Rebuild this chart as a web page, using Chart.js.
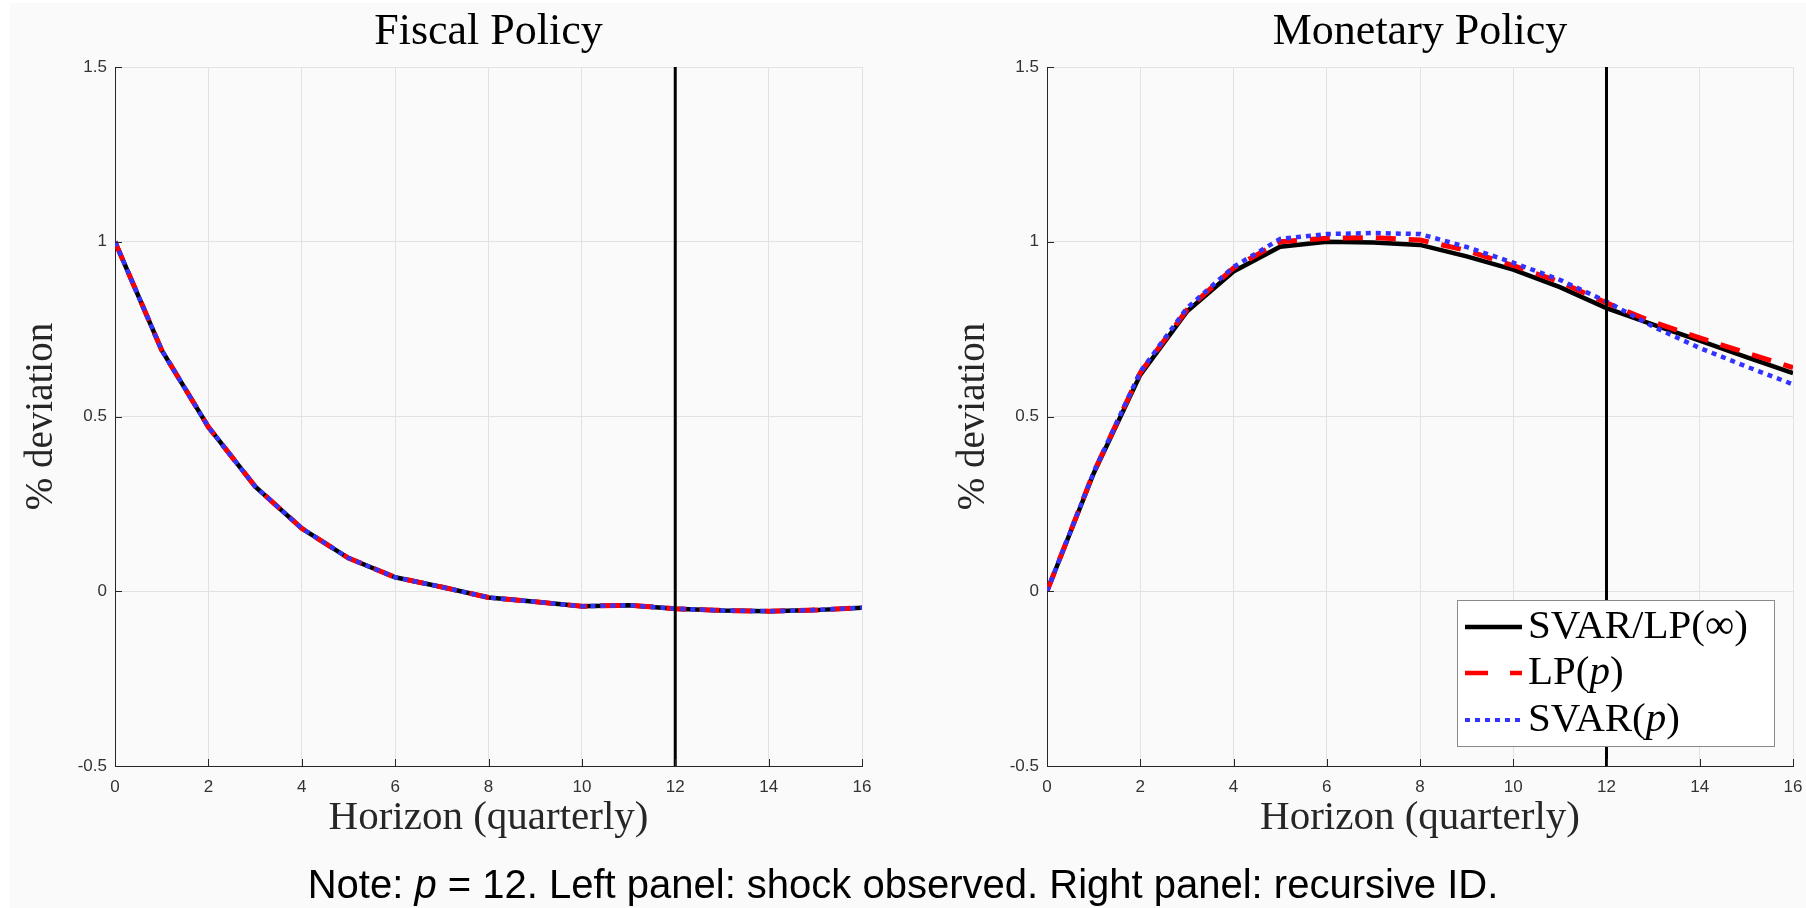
<!DOCTYPE html>
<html>
<head>
<meta charset="utf-8">
<script src="https://cdn.jsdelivr.net/npm/chart.js@4.4.1/dist/chart.umd.min.js"></script>
<style>
  html, body { margin: 0; padding: 0; background: #ffffff; overflow: hidden; }
  #page { position: relative; width: 1806px; height: 908px; overflow: hidden; }
  #bg { position: absolute; left: 10px; top: 3px; right: 0; bottom: 0; background: #fafafa; }
  .panel { position: absolute; top: 0; width: 903px; height: 908px; }
  #note {
    position: absolute; left: 0; top: 864px; width: 1806px; text-align: center;
    font: 40px/40px "Liberation Sans", Arial, sans-serif; color: #000;
  }
</style>
</head>
<body>
<div id="page">
  <div id="bg"></div>
  <div class="panel" style="left:0"><canvas id="fiscalChart"></canvas></div>
  <div class="panel" style="left:903px"><canvas id="monetaryChart"></canvas></div>
  <div id="note">Note: <i>p</i> = 12. Left panel: shock observed. Right panel: recursive ID.</div>
</div>

<script>
// 橫軸：季度
const horizons = [0, 1, 2, 3, 4, 5, 6, 7, 8, 9, 10, 11, 12, 13, 14, 15, 16];
const xTicks = [0, 2, 4, 6, 8, 10, 12, 14, 16];
const yTicks = [-0.5, 0, 0.5, 1, 1.5];
const lagLength = 12; // p = 12，垂直線位置

// 左圖：財政政策（三條線幾乎重疊）
const fiscalTrue = [1.00, 0.69, 0.47, 0.30, 0.18, 0.095, 0.04, 0.012, -0.018, -0.03, -0.043, -0.04, -0.05, -0.055, -0.057, -0.054, -0.047];
const fiscalLP   = [1.00, 0.69, 0.47, 0.30, 0.18, 0.095, 0.04, 0.012, -0.018, -0.03, -0.043, -0.04, -0.05, -0.055, -0.057, -0.054, -0.047];
const fiscalSVAR = [1.00, 0.69, 0.47, 0.30, 0.18, 0.095, 0.04, 0.012, -0.018, -0.03, -0.043, -0.04, -0.05, -0.055, -0.057, -0.054, -0.047];

// 右圖：貨幣政策
const monetaryTrue = [0, 0.337, 0.619, 0.80, 0.915, 0.986, 1.0, 0.998, 0.991, 0.958, 0.92, 0.87, 0.81, 0.763, 0.717, 0.67, 0.624];
const monetaryLP   = [0, 0.34, 0.625, 0.805, 0.925, 1.0, 1.01, 1.012, 1.005, 0.975, 0.932, 0.885, 0.825, 0.77, 0.725, 0.682, 0.64];
const monetarySVAR = [0, 0.34, 0.628, 0.81, 0.928, 1.008, 1.022, 1.025, 1.022, 0.985, 0.94, 0.891, 0.829, 0.757, 0.696, 0.643, 0.592];

const seriesLabels = ['SVAR/LP(∞)', 'LP(p)', 'SVAR(p)'];

const SERIF = '"Liberation Serif", "Times New Roman", serif';
const SANS = '"Liberation Sans", Arial, sans-serif';
const AXIS_COLOR = '#262626';

Chart.defaults.font.family = SANS;

function toPoints(values) {
    return horizons.map((h, i) => ({ x: h, y: values[i] }));
}

// MATLAB 風格的向內刻度
const innerTicks = {
    id: 'innerTicks',
    afterDatasetsDraw(chart) {
        const { ctx, chartArea, scales } = chart;
        ctx.save();
        ctx.strokeStyle = AXIS_COLOR;
        ctx.lineWidth = 1;
        ctx.beginPath();
        xTicks.forEach(v => {
            const px = Math.round(scales.x.getPixelForValue(v)) + 0.5;
            ctx.moveTo(px, chartArea.bottom);
            ctx.lineTo(px, chartArea.bottom - 7);
        });
        yTicks.forEach(v => {
            const py = Math.round(scales.y.getPixelForValue(v)) + 0.5;
            ctx.moveTo(chartArea.left, py);
            ctx.lineTo(chartArea.left + 7, py);
        });
        ctx.stroke();
        ctx.restore();
    }
};

// 圖例（右下角方框）
const boxLegend = {
    id: 'boxLegend',
    afterDraw(chart, args, opts) {
        if (!opts.show) return;
        const { ctx, chartArea } = chart;
        const w = 317, h = 146;
        const bx = chartArea.right - 19 - w;
        const by = chartArea.bottom - 20 - h;
        ctx.save();
        ctx.fillStyle = '#ffffff';
        ctx.fillRect(bx, by, w, h);
        ctx.strokeStyle = '#8a8a8a';
        ctx.lineWidth = 1;
        ctx.strokeRect(Math.round(bx) + 0.5, Math.round(by) + 0.5, w, h);

        const rows = [
            { color: '#000000', dash: [], width: 4.5, parts: [['SVAR/LP(∞)', false]] },
            { color: '#ff0000', dash: [23, 22], width: 4.5, parts: [['LP(', false], ['p', true], [')', false]] },
            { color: '#3333ff', dash: [5, 5], width: 4, parts: [['SVAR(', false], ['p', true], [')', false]] }
        ];
        const rowY = [27, 73, 120];
        rows.forEach((r, i) => {
            const y = by + rowY[i];
            ctx.beginPath();
            ctx.setLineDash(r.dash);
            ctx.strokeStyle = r.color;
            ctx.lineWidth = r.width;
            ctx.moveTo(bx + 8, y);
            ctx.lineTo(bx + 65, y);
            ctx.stroke();
            ctx.setLineDash([]);
            let tx = bx + 71;
            ctx.fillStyle = '#000000';
            ctx.textBaseline = 'middle';
            ctx.textAlign = 'left';
            r.parts.forEach(([txt, italic]) => {
                ctx.font = (italic ? 'italic ' : '') + '41px ' + SERIF;
                ctx.fillText(txt, tx, y);
                tx += ctx.measureText(txt).width;
            });
        });
        ctx.restore();
    }
};

function buildChart(canvasId, title, trueVals, lpVals, svarVals, yAxisWidth, yTitlePad, rightPad, showLegend) {
    const ctx = document.getElementById(canvasId).getContext('2d');
    return new Chart(ctx, {
        type: 'line',
        data: {
            datasets: [
                {
                    label: 'p',
                    data: [{ x: lagLength, y: -0.5 }, { x: lagLength, y: 1.5 }],
                    borderColor: '#000000',
                    borderWidth: 3,
                    pointRadius: 0,
                    order: 0
                },
                {
                    label: seriesLabels[2],
                    data: toPoints(svarVals),
                    borderColor: '#3333ff',
                    borderWidth: 4.5,
                    borderDash: [5, 5],
                    pointRadius: 0,
                    tension: 0,
                    order: 1
                },
                {
                    label: seriesLabels[1],
                    data: toPoints(lpVals),
                    borderColor: '#ff0000',
                    borderWidth: 5,
                    borderDash: [20, 13],
                    pointRadius: 0,
                    tension: 0,
                    order: 2
                },
                {
                    label: seriesLabels[0],
                    data: toPoints(trueVals),
                    borderColor: '#000000',
                    borderWidth: 4.5,
                    pointRadius: 0,
                    tension: 0,
                    order: 3
                }
            ]
        },
        options: {
            responsive: true,
            maintainAspectRatio: false,
            animation: false,
            layout: { padding: { left: 0, top: 0, bottom: 0, right: rightPad } },
            plugins: {
                legend: { display: false },
                tooltip: { enabled: false },
                title: {
                    display: true,
                    text: title,
                    fullSize: false,
                    color: '#000000',
                    font: { family: SERIF, size: 44, weight: 'normal', lineHeight: 1 },
                    padding: { top: 10.5, bottom: 12.5 }
                },
                boxLegend: { show: showLegend }
            },
            scales: {
                x: {
                    type: 'linear',
                    min: 0,
                    max: 16,
                    afterBuildTicks: s => { s.ticks = xTicks.map(v => ({ value: v })); },
                    afterFit: s => { s.height = 142; s.paddingRight = 0; },
                    grid: { color: '#e2e2e2', drawTicks: false },
                    border: { color: AXIS_COLOR, width: 1 },
                    ticks: { color: '#333333', font: { size: 17 }, padding: 11, maxRotation: 0, callback: v => String(v) },
                    title: {
                        display: true,
                        text: 'Horizon (quarterly)',
                        color: AXIS_COLOR,
                        font: { family: SERIF, size: 41, lineHeight: 1 },
                        padding: { top: 0, bottom: 69 }
                    }
                },
                y: {
                    type: 'linear',
                    min: -0.5,
                    max: 1.5,
                    afterBuildTicks: s => { s.ticks = yTicks.map(v => ({ value: v })); },
                    afterFit: s => { s.width = yAxisWidth; },
                    grid: { color: '#e2e2e2', drawTicks: false },
                    border: { color: AXIS_COLOR, width: 1 },
                    ticks: { color: '#333333', font: { size: 17 }, padding: 8, callback: v => String(v) },
                    title: {
                        display: true,
                        text: '% deviation',
                        color: AXIS_COLOR,
                        font: { family: SERIF, size: 39, lineHeight: 1 },
                        padding: { top: yTitlePad, bottom: 0 }
                    }
                }
            }
        },
        plugins: [innerTicks, boxLegend]
    });
}

document.addEventListener('DOMContentLoaded', function() {
    buildChart('fiscalChart', 'Fiscal Policy', fiscalTrue, fiscalLP, fiscalSVAR, 115, 22.5, 41, false);
    buildChart('monetaryChart', 'Monetary Policy', monetaryTrue, monetaryLP, monetarySVAR, 144, 51, 13, true);
});
</script>
</body>
</html>
